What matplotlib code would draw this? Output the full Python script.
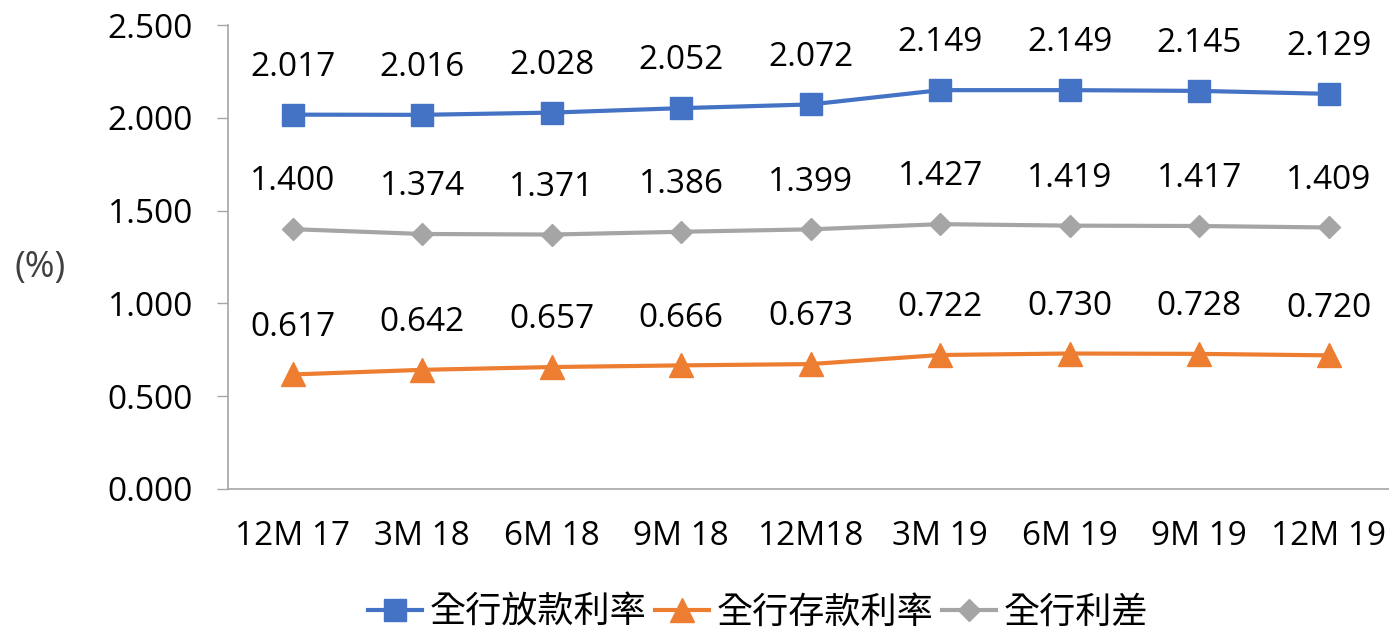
import matplotlib
matplotlib.use("Agg")
import matplotlib.pyplot as plt

plt.rcParams['font.family'] = ['Open Sans', 'Noto Sans CJK TC', 'DejaVu Sans']

periods = ["12M 17", "3M 18", "6M 18", "9M 18", "12M18", "3M 19", "6M 19", "9M 19", "12M 19"]
loan_rate = [2.017, 2.016, 2.028, 2.052, 2.072, 2.149, 2.149, 2.145, 2.129]
deposit_rate = [0.617, 0.642, 0.657, 0.666, 0.673, 0.722, 0.730, 0.728, 0.720]
spread = [1.400, 1.374, 1.371, 1.386, 1.399, 1.427, 1.419, 1.417, 1.409]
names = ["全行放款利率", "全行存款利率", "全行利差"]

fig = plt.figure(figsize=(13.89, 6.33), dpi=100)
ax = fig.add_axes([0.164, 0.2275, 0.836, 0.733])

x = range(len(periods))
series = [
    (loan_rate, "#4472C4", "s", 16),
    (deposit_rate, "#ED7D31", "^", 17),
    (spread, "#A5A5A5", "D", 11),
]
for (vals, col, mk, ms), name in zip(series, names):
    ax.plot(x, vals, color=col, lw=3, marker=mk, markersize=ms, label=name)
    for i, v in enumerate(vals):
        ax.annotate(f"{v:.3f}", (i, v), xytext=(0, 34), textcoords="offset points",
                    ha="center", va="center", fontsize=24, color="black")

ax.set_xlim(-0.5, 8.465)
ax.set_ylim(0, 2.5)
ax.set_yticks([0, 0.5, 1.0, 1.5, 2.0, 2.5])
ax.set_yticklabels([f"{t:.3f}" for t in ax.get_yticks()])
ax.set_xticks(list(x))
ax.set_xticklabels(periods)
ax.tick_params(axis="y", length=8, width=1, color="#A6A6A6", labelsize=24, pad=17)
ax.tick_params(axis="x", length=0, labelsize=24, pad=22)
for s in ["top", "right"]:
    ax.spines[s].set_visible(False)
for s in ["left", "bottom"]:
    ax.spines[s].set_color("#A6A6A6")
    ax.spines[s].set_linewidth(1.2)
ax.patch.set_alpha(0)

fig.text(40 / 1389, 1 - 268 / 633, "(%)", fontsize=26, color="#404040", ha="center", va="center")

fig.legend(loc="center", bbox_to_anchor=(758 / 1389, 1 - 614 / 633), ncol=3, frameon=False,
           fontsize=26, handlelength=1.5, handletextpad=0.2, columnspacing=0.25,
           borderaxespad=0, borderpad=0)

fig.savefig("out.png", dpi=100)
